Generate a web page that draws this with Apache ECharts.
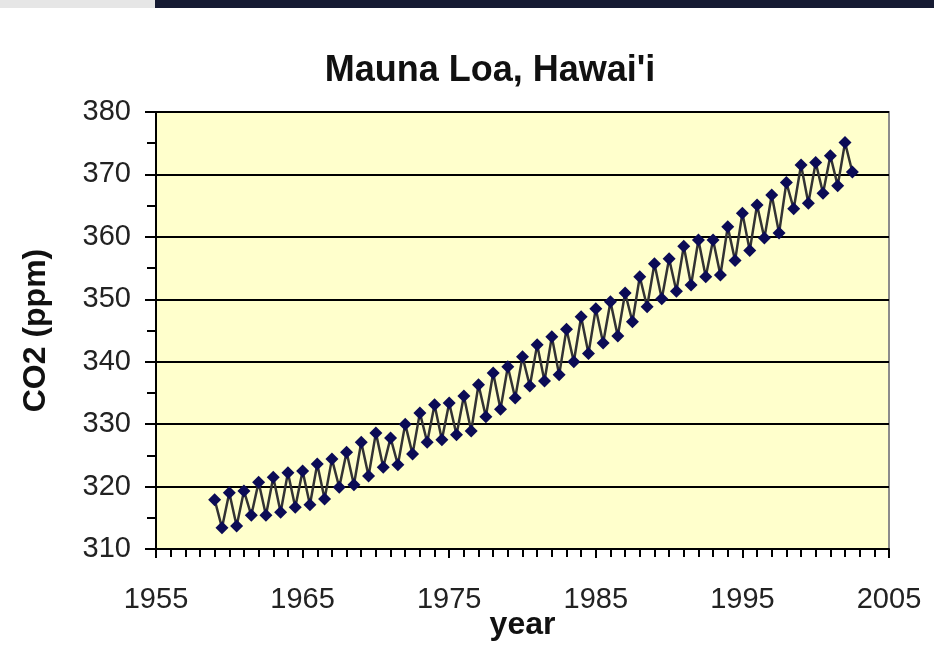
<!DOCTYPE html>
<html>
<head>
<meta charset="utf-8">
<title>Mauna Loa CO2</title>
<script src="https://cdn.jsdelivr.net/npm/echarts@6/dist/echarts.min.js"></script>
<style>
    html, body { margin: 0; padding: 0; background: #fff; }
    #chart { width: 934px; height: 650px; }
</style>
</head>
<body>
<div id="chart"></div>
<script>
// half-year readings (seasonal high / low)
var years = [
    1959, 1959.5, 1960, 1960.5, 1961, 1961.5, 1962, 1962.5, 1963, 1963.5,
    1964, 1964.5, 1965, 1965.5, 1966, 1966.5, 1967, 1967.5, 1968, 1968.5,
    1969, 1969.5, 1970, 1970.5, 1971, 1971.5, 1972, 1972.5, 1973, 1973.5,
    1974, 1974.5, 1975, 1975.5, 1976, 1976.5, 1977, 1977.5, 1978, 1978.5,
    1979, 1979.5, 1980, 1980.5, 1981, 1981.5, 1982, 1982.5, 1983, 1983.5,
    1984, 1984.5, 1985, 1985.5, 1986, 1986.5, 1987, 1987.5, 1988, 1988.5,
    1989, 1989.5, 1990, 1990.5, 1991, 1991.5, 1992, 1992.5, 1993, 1993.5,
    1994, 1994.5, 1995, 1995.5, 1996, 1996.5, 1997, 1997.5, 1998, 1998.5,
    1999, 1999.5, 2000, 2000.5, 2001, 2001.5, 2002, 2002.5
];
var co2 = [
    317.9, 313.4, 319.0, 313.7, 319.3, 315.4, 320.7, 315.4, 321.5, 315.9,
    322.2, 316.7, 322.5, 317.1, 323.6, 318.0, 324.4, 319.9, 325.5, 320.3,
    327.1, 321.7, 328.6, 323.1, 327.8, 323.5, 330.0, 325.2, 331.8, 327.1,
    333.1, 327.5, 333.4, 328.3, 334.5, 328.9, 336.3, 331.2, 338.2, 332.4,
    339.2, 334.2, 340.8, 336.1, 342.7, 336.9, 344.0, 337.9, 345.2, 340.0,
    347.2, 341.3, 348.5, 343.0, 349.6, 344.1, 351.0, 346.4, 353.6, 348.8,
    355.7, 350.1, 356.5, 351.3, 358.5, 352.3, 359.5, 353.6, 359.5, 353.9,
    361.6, 356.2, 363.8, 357.8, 365.1, 359.8, 366.7, 360.6, 368.7, 364.5,
    371.5, 365.4, 371.9, 367.0, 373.0, 368.2, 375.1, 370.4
];
var xRange = [1955, 2005];
var yRange = [310, 380];

var points = [];
for (var i = 0; i < years.length; i++) {
    points.push([years[i], co2[i]]);
}

var font = 'Liberation Sans, Arial, sans-serif';
var option = {
    animation: false,
    backgroundColor: '#fff',
    title: {
        text: "Mauna Loa, Hawai'i",
        left: 485, top: 48, textAlign: 'center',
        textStyle: { fontFamily: font, fontSize: 36, fontWeight: 'bold', color: '#111' }
    },
    graphic: [
        { type: 'rect', left: 0, top: 0, shape: { width: 155, height: 8 }, style: { fill: '#e6e6e6' } },
        { type: 'rect', left: 155, top: 0, shape: { width: 779, height: 8 }, style: { fill: '#161b33' } }
    ],
    grid: {
        left: 156, right: 45, top: 112, bottom: 101,
        containLabel: false, outerBoundsMode: 'none',
        show: true, backgroundColor: '#ffffcc', borderColor: '#8c8c8c', borderWidth: 2
    },
    xAxis: {
        type: 'value', min: xRange[0], max: xRange[1], interval: 10,
        name: 'year', nameLocation: 'middle', nameGap: 60, nameMoveOverlap: false,
        nameTextStyle: { fontFamily: font, fontSize: 32, fontWeight: 'bold', color: '#111' },
        axisLine: { onZero: false, lineStyle: { color: '#000', width: 2 } },
        axisTick: { length: 9, lineStyle: { color: '#000', width: 2 } },
        minorTick: { show: true, splitNumber: 10, length: 8, lineStyle: { color: '#000', width: 2 } },
        axisLabel: { fontFamily: font, fontSize: 29, color: '#222', margin: 36, formatter: function (v) { return String(v); } },
        splitLine: { show: false }
    },
    yAxis: {
        type: 'value', min: yRange[0], max: yRange[1], interval: 10,
        name: 'CO2 (ppm)', nameLocation: 'middle', nameGap: 104, nameMoveOverlap: false,
        nameTextStyle: { fontFamily: font, fontSize: 32, fontWeight: 'bold', color: '#111' },
        axisLine: { lineStyle: { color: '#000', width: 2 } },
        axisTick: { length: 11, lineStyle: { color: '#000', width: 2 } },
        minorTick: { show: true, splitNumber: 2, length: 9, lineStyle: { color: '#000', width: 2 } },
        axisLabel: { fontFamily: font, fontSize: 29, color: '#222', margin: 25 },
        splitLine: { show: true, lineStyle: { color: '#000', width: 2 } }
    },
    series: [{
        name: 'CO2', type: 'line', data: points,
        symbol: 'diamond', symbolSize: 13,
        itemStyle: { color: '#0b0b55' },
        lineStyle: { color: '#333', width: 2.5 }
    }]
};

var chart = echarts.init(document.getElementById('chart'));
chart.setOption(option);
</script>
</body>
</html>
